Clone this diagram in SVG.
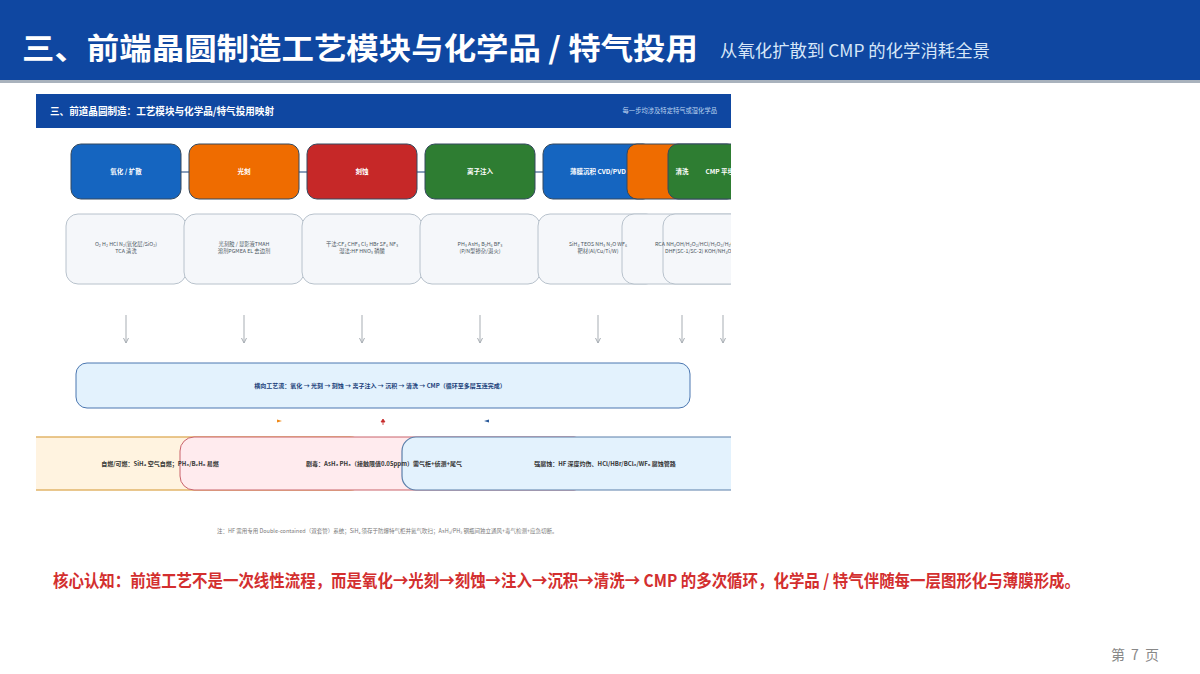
<svg xmlns="http://www.w3.org/2000/svg" width="1200" height="674" viewBox="0 0 1200 674">
<style>
.cjk{font-family:"Noto Sans CJK SC","Noto Sans",sans-serif}
.node rect{stroke:#34495e;stroke-width:1}
.nt{font-family:"Noto Sans CJK SC",sans-serif;font-size:6.5px;font-weight:bold;fill:#fff;text-anchor:middle}
.box rect{fill:#F5F7FA;stroke:#B8C2CC;stroke-width:1}
.bt{font-family:"Noto Sans CJK SC",sans-serif;font-size:5.3px;fill:#4a5560;text-anchor:middle}
.bts{font-family:"Noto Sans CJK SC",sans-serif;font-size:5.3px;fill:#4a5560;text-anchor:start}
.conn{stroke:#3d5f8f;stroke-width:1.2}
.down{stroke:#A7ADB3;stroke-width:1;marker-end:url(#ah)}
.rt{font-family:"Noto Sans CJK SC",sans-serif;font-size:6px;font-weight:bold;fill:#333;text-anchor:middle}
</style>
<defs>
<marker id="ah" markerWidth="6" markerHeight="6" refX="5" refY="3" orient="auto" markerUnits="userSpaceOnUse"><path d="M0,0.5 L5,3 L0,5.5" fill="none" stroke="#A7ADB3" stroke-width="1"/></marker>
<clipPath id="clip"><rect x="36" y="94" width="695" height="450"/></clipPath>
</defs>
<rect width="1200" height="674" fill="#fff"/>
<g id="header">
<rect x="0" y="0" width="1200" height="80" fill="#0F47A1"/>
<rect x="0" y="80" width="1200" height="3" fill="#A9B2BD"/>
<text x="22" y="59" class="cjk" font-size="30" font-weight="bold" fill="#fff" textLength="676" lengthAdjust="spacingAndGlyphs">三、前端晶圆制造工艺模块与化学品 / 特气投用</text>
<text x="720" y="57" class="cjk" font-size="17" fill="#D6E6F8" textLength="270" lengthAdjust="spacingAndGlyphs">从氧化扩散到 CMP 的化学消耗全景</text>
</g>
<g clip-path="url(#clip)">
<g id="inner-header">
<rect x="36" y="94" width="695" height="34" fill="#0F47A1"/>
<text x="50" y="115" class="cjk" font-size="10" font-weight="bold" fill="#fff" textLength="224" lengthAdjust="spacingAndGlyphs">三、前道晶圆制造：工艺模块与化学品/特气投用映射</text>
<text x="717" y="113" class="cjk" font-size="6.3" fill="#BBD3F0" text-anchor="end">每一步均涉及特定特气或湿化学品</text>
</g>
<g id="connectors">
<line class="conn" x1="175" y1="172" x2="189" y2="172"/>
<line class="conn" x1="293" y1="172" x2="307" y2="172"/>
<line class="conn" x1="411" y1="172" x2="425" y2="172"/>
<line class="conn" x1="529" y1="172" x2="543" y2="172"/>
<line class="down" x1="126" y1="315" x2="126" y2="343"/>
<line class="down" x1="244" y1="315" x2="244" y2="343"/>
<line class="down" x1="362" y1="315" x2="362" y2="343"/>
<line class="down" x1="480" y1="315" x2="480" y2="343"/>
<line class="down" x1="598" y1="315" x2="598" y2="343"/>
<line class="down" x1="682" y1="315" x2="682" y2="343"/>
<line class="down" x1="723" y1="315" x2="723" y2="343"/>
<path d="M277,419.5 L282,421 L277,422.5 Z" fill="#EF8A1A"/>
<path d="M383,419 L381,422 L385,422 Z M383,422 L383,425" fill="#C62828" stroke="#C62828" stroke-width="0.8"/>
<path d="M489,419.5 L484,421 L489,422.5 Z" fill="#2A5A9A"/>
</g>
<g id="node-oxidation" class="node"><rect x="71" y="144" width="110" height="55" rx="10" fill="#1565C0"/></g>
<g id="node-litho" class="node"><rect x="189" y="144" width="110" height="55" rx="10" fill="#EF6C00"/></g>
<g id="node-etch" class="node"><rect x="307" y="144" width="110" height="55" rx="10" fill="#C62828"/></g>
<g id="node-implant" class="node"><rect x="425" y="144" width="110" height="55" rx="10" fill="#2E7D32"/></g>
<g id="node-deposition" class="node"><rect x="543" y="144" width="110" height="55" rx="10" fill="#1565C0"/></g>
<g id="node-clean" class="node"><rect x="627" y="144" width="110" height="55" rx="10" fill="#EF6C00"/></g>
<g id="node-cmp" class="node"><rect x="668" y="144" width="110" height="55" rx="10" fill="#2E7D32"/></g>
<g id="node-labels">
<text class="nt" x="126" y="174">氧化 / 扩散</text>
<text class="nt" x="244" y="174">光刻</text>
<text class="nt" x="362" y="174">刻蚀</text>
<text class="nt" x="480" y="174">离子注入</text>
<text class="nt" x="598" y="174">薄膜沉积 CVD/PVD</text>
<text class="nt" x="682" y="174">清洗</text>
<text class="nt" x="723" y="174">CMP 平坦化</text>
</g>
<g id="box-oxidation" class="box"><rect x="66" y="214" width="120" height="70" rx="12"/></g>
<g id="box-litho" class="box"><rect x="184" y="214" width="120" height="70" rx="12"/></g>
<g id="box-etch" class="box"><rect x="302" y="214" width="120" height="70" rx="12"/></g>
<g id="box-implant" class="box"><rect x="420" y="214" width="120" height="70" rx="12"/></g>
<g id="box-deposition" class="box"><rect x="538" y="214" width="120" height="70" rx="12"/></g>
<g id="box-clean" class="box"><rect x="622" y="214" width="120" height="70" rx="12"/></g>
<g id="box-cmp" class="box"><rect x="663" y="214" width="120" height="70" rx="12"/></g>
<g id="box-texts">
<text class="bt" x="126" y="246">O₂ H₂ HCl N₂(氧化层/SiO₂)</text>
<text class="bt" x="126" y="253">TCA 清洗</text>
<text class="bt" x="244" y="246">光刻胶 / 显影液TMAH</text>
<text class="bt" x="244" y="253">溶剂PGMEA EL 去边剂</text>
<text class="bt" x="362" y="246">干法:CF₄ CHF₃ Cl₂ HBr SF₆ NF₃</text>
<text class="bt" x="362" y="253">湿法:HF HNO₃ 磷酸</text>
<text class="bt" x="480" y="246">PH₃ AsH₃ B₂H₆ BF₃</text>
<text class="bt" x="480" y="253">(P/N型掺杂/退火)</text>
<text class="bt" x="598" y="246">SiH₄ TEOS NH₃ N₂O WF₆</text>
<text class="bt" x="598" y="253">靶材(Al/Cu/Ti/W)</text>
<text class="bts" x="655" y="246">RCA NH₄OH/H₂O₂/HCl/H₂O₂/H₂O</text>
<text class="bts" x="665" y="253">DHF(SC-1/SC-2) KOH/NH₄OH</text>
</g>
<g id="flow-band">
<rect x="76" y="363" width="614" height="45" rx="11" fill="#E3F2FD" stroke="#4A76B0" stroke-width="1"/>
<text x="380" y="388" class="cjk" font-size="6" font-weight="bold" fill="#1A3F7A" text-anchor="middle">横向工艺流：氧化 → 光刻 → 刻蚀 → 离子注入 → 沉积 → 清洗 → CMP（循环至多层互连完成）</text>
</g>
<g id="risk-flammable"><rect x="-44" y="437" width="408" height="53" rx="14" fill="#FFF3E0" stroke="#E2B56A" stroke-width="1.5"/></g>
<g id="risk-toxic"><rect x="180" y="437" width="408" height="53" rx="14" fill="#FFEBEE" stroke="#C9636B" stroke-width="1"/></g>
<g id="risk-corrosive"><rect x="402" y="437" width="408" height="53" rx="14" fill="#E3F2FD" stroke="#5B7FAA" stroke-width="1.2"/></g>
<g id="risk-texts">
<text x="160" y="466" class="rt">自燃/可燃：SiH₄ 空气自燃；PH₃/B₂H₆ 易燃</text>
<text x="384" y="466" class="rt">剧毒：AsH₃ PH₃（接触限值0.05ppm）需气柜+侦测+尾气</text>
<text x="605" y="466" class="rt">强腐蚀：HF 深度灼伤、HCl/HBr/BCl₃/WF₆ 腐蚀管路</text>
</g>
<text x="217" y="533" class="cjk" font-size="5.5" fill="#777">注：HF 需用专用 Double-contained（双套管）系统；SiH₄ 须存于防爆特气柜并氮气吹扫；AsH₃/PH₃ 钢瓶间独立通风+毒气检测+应急切断。</text>
</g>
<text x="53" y="587" class="cjk" font-size="17" font-weight="bold" fill="#D32F2F" textLength="1027" lengthAdjust="spacingAndGlyphs">核心认知：前道工艺不是一次线性流程，而是氧化→光刻→刻蚀→注入→沉积→清洗→ CMP 的多次循环，化学品 / 特气伴随每一层图形化与薄膜形成。</text>
<text x="1111" y="660" class="cjk" font-size="14" fill="#888" textLength="48" lengthAdjust="spacing">第 7 页</text>
</svg>
